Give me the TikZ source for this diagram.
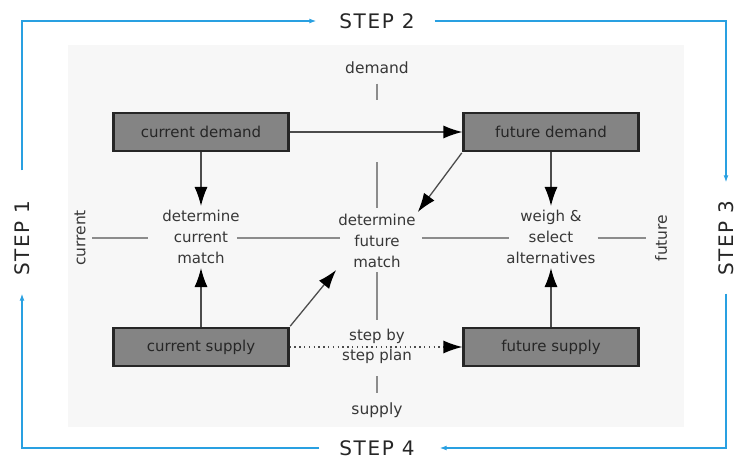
\documentclass[tikz,border=0pt]{standalone}
\usepackage{fontspec}
\setmainfont{DejaVu Sans}
\newfontfamily\stepfont[LetterSpace=8]{DejaVu Sans}
\usetikzlibrary{arrows.meta,positioning}

\definecolor{stepblue}{RGB}{41,160,225}
\definecolor{boxgray}{RGB}{132,132,132}
\definecolor{axisgray}{RGB}{140,140,140}
\definecolor{inkgray}{RGB}{55,55,55}

\tikzset{
  boxnode/.style={draw=black!85,line width=2.2pt,fill=boxgray,minimum width=175pt,minimum height=38pt,
    font=\fontsize{15}{17}\selectfont,text=black!85},
  matchnode/.style={align=center,font=\fontsize{15}{21}\selectfont,text=inkgray,inner sep=2pt},
  axislabel/.style={font=\fontsize{15.5}{17}\selectfont,text=inkgray},
  axisline/.style={draw=axisgray,line width=1.2pt},
  flow/.style={draw=black!70,line width=1.3pt,-{Latex[length=19pt,width=13pt,fill=black,color=black]}},
  steplabel/.style={font=\stepfont\fontsize{20}{24}\selectfont,text=black!85,inner sep=0pt},
  bluepath/.style={draw=stepblue,line width=1.2pt,-{Latex[length=7pt,width=5pt]}},
}

\begin{document}
\begin{tikzpicture}[x=1pt,y=1pt]
\useasboundingbox (0,0) rectangle (737,461);
\fill[black!3] (68,34) rectangle (684,416);

% the four boxes
\node[boxnode] (cd) at (201,329) {current demand};
\node[boxnode] (fd) at (551,329) {future demand};
\node[boxnode] (cs) at (201,114) {current supply};
\node[boxnode] (fs) at (551,114) {future supply};

% matching steps
\node[matchnode] (dcm) at (201,224) {determine\\current\\match};
\node[matchnode] (dfm) at (377,220) {determine\\future\\match};
\node[matchnode] (wsa) at (551,224) {weigh \&\\select\\alternatives};

% axis labels
\node[axislabel] (dem) at (377,393) {demand};
\node[axislabel] (sup) at (377,51) {supply};
\node[axislabel,rotate=90] (cur) at (80,223) {current};
\node[axislabel,rotate=90] (fut) at (661,223) {future};
\node[matchnode,font=\fontsize{15}{20}\selectfont] (sp) at (377,115) {step by\\step plan};

% axes
\draw[axisline,shorten <=3pt,shorten >=12pt] (cur.south) -- (cur.south -| dcm.west);
\draw[axisline,shorten <=-5pt,shorten >=-4pt] (dcm.east |- cur.south) -- (dfm.west |- cur.south);
\draw[axisline,shorten <=4pt,shorten >=-5pt] (dfm.east |- cur.south) -- (wsa.west |- cur.south);
\draw[axisline,shorten >=5pt] (wsa.east |- cur.south) -- (fut.north);
\draw[axisline] (dfm.north) ++(0,4) -- ++(0,46);
\draw[axisline] (dfm.south) ++(0,-2) -- ++(0,-48);
\draw[axisline] (dem.south) ++(0,-6) -- ++(0,-16);
\draw[axisline] (sup.north) ++(0,6) -- ++(0,17);

% flows
\draw[flow,shorten >=2pt] (cd) -- (dcm);
\draw[flow,shorten >=2pt] (cs) -- (dcm);
\draw[flow,shorten >=2pt] (fd) -- (wsa);
\draw[flow,shorten >=2pt] (fs) -- (wsa);
\draw[flow] (cd) -- (fd);
\draw[flow,shorten <=1pt] (fd.south west) -- (dfm.north east);
\draw[flow,shorten <=1pt] (cs.north east) -- (dfm.south west);
\draw[flow,dash pattern=on 1.3pt off 3.5pt] (cs) -- (fs);

% the cycle of steps
\node[steplabel,rotate=90] (s1) at (22,223) {STEP 1};
\node[steplabel] (s2) at (377,440) {STEP 2};
\node[steplabel,rotate=90] (s3) at (726,223) {STEP 3};
\node[steplabel] (s4) at (377,13) {STEP 4};
\draw[bluepath,shorten <=30pt,shorten >=23pt] (s1.east) |- (s2.west);
\draw[bluepath,shorten <=20pt,shorten >=18pt] (s2.east) -| (s3.east);
\draw[bluepath,shorten <=18pt,shorten >=25pt] (s3.west) |- (s4.east);
\draw[bluepath,shorten <=20pt,shorten >=18pt] (s4.west) -| (s1.west);
\end{tikzpicture}
\end{document}
